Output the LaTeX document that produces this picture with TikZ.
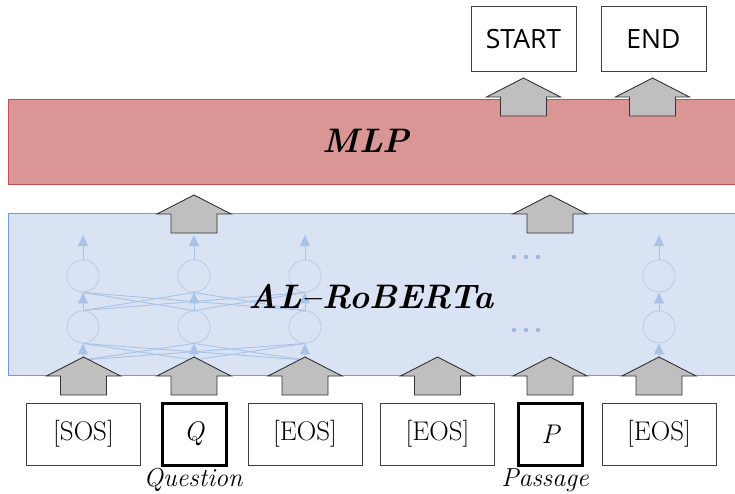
\documentclass[tikz,border=0pt]{standalone}
\usepackage{fontspec}
\newfontfamily\labsans{Open Sans}
\usetikzlibrary{arrows.meta}
\definecolor{mlpfill}{HTML}{D99694}
\definecolor{mlpline}{HTML}{C0504D}
\definecolor{robfill}{HTML}{DAE3F3}
\definecolor{robline}{HTML}{6F9BD1}
\definecolor{arrfill}{HTML}{BFBFBF}
\definecolor{netc}{HTML}{A9C3E6}
\definecolor{netcirc}{HTML}{BCCFEA}
\definecolor{dotc}{HTML}{9FB8DA}
\tikzset{
  layerbox/.style={anchor=north west, inner sep=0pt, line width=1pt},
  tok/.style={draw=black!75, line width=1pt, minimum height=62pt, inner sep=0pt, font=\fontsize{27}{32}\selectfont},
  outbox/.style={draw=black!75, line width=1pt, minimum width=105pt, minimum height=65pt, inner sep=0pt, font=\labsans\fontsize{26.5}{30}\selectfont},
  neuron/.style={circle, draw=netcirc, line width=0.9pt, minimum size=32pt, inner sep=0pt},
  netarrow/.style={draw=netc, line width=1pt, -{Triangle[width=10pt,length=11pt,fill=netc]}},
  netline/.style={draw=netc, line width=0.9pt},
  uparr/.pic={\draw[fill=arrfill, draw=black!80, line width=0.9pt, line join=miter]
      (-23,38) -- (-23,19) -- (-37,19) -- (0,0) -- (37,19) -- (23,19) -- (23,38) -- cycle;},
  lab/.style={font=\fontsize{26}{30}\selectfont\itshape},
  layertext/.style={font=\fontsize{34}{40}\selectfont\bfseries\itshape}
}
\begin{document}
\begin{tikzpicture}[x=1pt,y=-1pt]
\useasboundingbox (0,0) rectangle (735,494);
\clip (0,0) rectangle (735,494);
% layers
\node[layerbox, draw=mlpline, fill=mlpfill, minimum width=740pt, minimum height=85pt] (mlp) at (8,99) {};
\node[layerbox, draw=robline, fill=robfill, minimum width=740pt, minimum height=162pt] (rob) at (8,213) {};
% neurons
\foreach \i/\x in {1/83,2/194,3/305,4/659}{
  \node[neuron] (u\i) at (\x,276) {};
  \node[neuron] (l\i) at (\x,327) {};
  \coordinate (t\i) at (\x,235);
  \coordinate (b\i) at (\x,360);
  \draw[netarrow] (u\i.north) -- (t\i);
  \draw[netarrow] (l\i.north) -- (u\i.south);
  \draw[netarrow] (b\i) -- (l\i.south);
}
\foreach \i in {1,2,3}{
  \foreach \j in {1,2,3}{
    \ifnum\i=\j\else
      \draw[netline] (l\i.north) -- (u\j.south);
      \draw[netline] (b\i) -- (l\j.south);
    \fi
  }
}
\foreach \x in {514,526,538}{
  \fill[dotc] (\x,257) circle (2.2);
  \fill[dotc] (\x,330) circle (2.2);
}
% layer labels
\node[layertext] (mlptext) at (366,141) {MLP};
\node[layertext] (robtext) at (371,297) {AL--RoBERTa};
% outputs
\node[outbox] (start) at (523.5,39.5) {START};
\node[outbox] (end) at (653.5,39.5) {END};
% tokens
\node[tok, minimum width=114pt] (sos) at (83.5,434) {[SOS]};
\node[tok, minimum width=64pt, line width=3pt, draw=black] (q) at (194,434) {\itshape Q};
\node[tok, minimum width=114pt] (eos1) at (305,434) {[EOS]};
\node[tok, minimum width=114pt] (eos2) at (437.5,434) {[EOS]};
\node[tok, minimum width=64pt, line width=3pt, draw=black] (p) at (550.5,434) {\itshape P};
\node[tok, minimum width=114pt] (eos3) at (659,434) {[EOS]};
\node[lab] (qlab) at (193,480) {Question};
\node[lab] (plab) at (545,480) {Passage};
% block arrows
\foreach \x in {83.5,194,305,437.5,550,659}{ \pic at (\x,357) {uparr}; }
\pic at (194,195) {uparr};
\pic at (550,195) {uparr};
\pic at (523.5,78) {uparr};
\pic at (652.5,78) {uparr};
\end{tikzpicture}
\end{document}
